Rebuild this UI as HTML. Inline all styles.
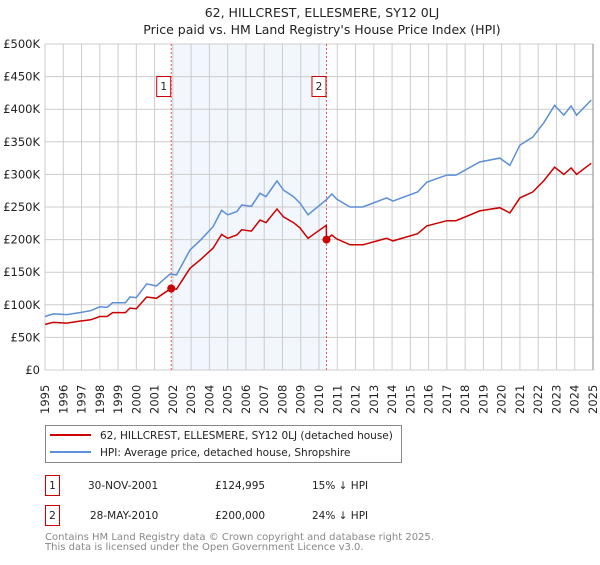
<!DOCTYPE html>
<html><head><meta charset="utf-8"><style>
body{margin:0;background:#fff;font-family:"Liberation Sans","DejaVu Sans",sans-serif;}
svg text{font-family:"DejaVu Sans","Liberation Sans",sans-serif;}
</style></head><body>
<svg id="c" width="600" height="560" xmlns="http://www.w3.org/2000/svg">
<text x="322" y="17" text-anchor="middle" font-size="12.5" fill="#222">62, HILLCREST, ELLESMERE, SY12 0LJ</text>
<text x="322" y="34" text-anchor="middle" font-size="12.5" fill="#222">Price paid vs. HM Land Registry's House Price Index (HPI)</text>
<g id="plot"></g>
<g>
<rect x="45.5" y="425.5" width="356" height="37" fill="#fff" stroke="#888"/>
<line x1="50" y1="435" x2="91" y2="435" stroke="#cc0000" stroke-width="2"/>
<text x="100" y="439" font-size="10.5" fill="#222">62, HILLCREST, ELLESMERE, SY12 0LJ (detached house)</text>
<line x1="50" y1="452" x2="91" y2="452" stroke="#5b8fd6" stroke-width="2"/>
<text x="100" y="456" font-size="10.5" fill="#222">HPI: Average price, detached house, Shropshire</text>
</g>
<g font-size="10.5" fill="#222">
<rect x="45.5" y="475.5" width="14" height="20" fill="#fff" stroke="#cc0000"/>
<text x="52.5" y="489" text-anchor="middle" fill="#222">1</text>
<text x="88" y="489" fill="#222">30-NOV-2001</text>
<text x="215" y="489" fill="#222">£124,995</text>
<text x="312" y="489" fill="#222">15% ↓ HPI</text>
<rect x="45.5" y="505.5" width="14" height="20" fill="#fff" stroke="#cc0000"/>
<text x="52.5" y="519" text-anchor="middle" fill="#222">2</text>
<text x="90" y="519" fill="#222">28-MAY-2010</text>
<text x="215" y="519" fill="#222">£200,000</text>
<text x="312" y="519" fill="#222">24% ↓ HPI</text>
</g>
<text x="45" y="540" font-size="10" fill="#888">Contains HM Land Registry data © Crown copyright and database right 2025.</text>
<text x="45" y="550" font-size="10" fill="#888">This data is licensed under the Open Government Licence v3.0.</text>
</svg>
<script>
const hpiDates=[1995.0,1995.45,1996.2,1996.9,1997.5,1998.0,1998.4,1998.7,1999.4,1999.65,2000.0,2000.57,2001.1,2001.84,2002.2,2002.94,2003.5,2004.2,2004.67,2005.0,2005.5,2005.77,2006.3,2006.77,2007.1,2007.7,2008.05,2008.6,2008.96,2009.4,2010.4,2010.7,2010.97,2011.7,2012.4,2013.7,2014.05,2015.4,2015.9,2017.0,2017.5,2018.8,2019.9,2020.45,2021.0,2021.7,2022.3,2022.9,2023.4,2023.8,2024.1,2024.9];
const hpiValues=[82,86,85,88,91,97,96,103,103,112,111,132,129,147,146,184,199,220,245,238,243,253,251,271,266,290,276,266,256,238,261,270,262,250,250,264,259,273,288,299,299,319,325,314,345,357,379,406,391,405,391,414];
const priceDates=[1995.0,1995.45,1996.2,1996.9,1997.5,1998.0,1998.4,1998.7,1999.4,1999.65,2000.0,2000.57,2001.1,2001.84,2001.91,2002.2,2002.94,2003.5,2004.2,2004.67,2005.0,2005.5,2005.77,2006.3,2006.77,2007.1,2007.7,2008.05,2008.6,2008.96,2009.4,2010.4,2010.41,2010.7,2010.97,2011.7,2012.4,2013.7,2014.05,2015.4,2015.9,2017.0,2017.5,2018.8,2019.9,2020.45,2021.0,2021.7,2022.3,2022.9,2023.4,2023.8,2024.1,2024.9];
const priceValues=[70,73,72,75,77,82,82,88,88,95,94,112,110,124,125,124,156,169,187,208,202,207,215,213,230,226,247,235,226,218,202,222,200,207,201,192,192,202,198,209,221,229,229,244,249,241,264,273,290,311,300,310,300,317];
const saleDates=[2001.91,2010.41];
const saleValues=[125,200];
const saleLabels=["1","2"];
const yTicks=[0,50,100,150,200,250,300,350,400,450,500];
const yTickLabels=["£0","£50K","£100K","£150K","£200K","£250K","£300K","£350K","£400K","£450K","£500K"];
const years=[1995,1996,1997,1998,1999,2000,2001,2002,2003,2004,2005,2006,2007,2008,2009,2010,2011,2012,2013,2014,2015,2016,2017,2018,2019,2020,2021,2022,2023,2024,2025];

const X0=45,X1=593,Y0=370,Y1=44;
const xs=t=>X0+(t-1995)/30*(X1-X0);
const ys=v=>Y0-v/500*(Y0-Y1);
const NS="http://www.w3.org/2000/svg";
const g=document.getElementById('plot');
function mk(tag,attrs,parent){const e=document.createElementNS(NS,tag);for(const k in attrs)e.setAttribute(k,attrs[k]);(parent||g).appendChild(e);return e;}

let r=mk('rect',{x:xs(saleDates[0]),y:Y1,width:xs(saleDates[1])-xs(saleDates[0]),height:Y0-Y1,fill:'#f2f6fd'});


years.forEach((yr,i)=>{
  const x=xs(yr);
  let l=mk('line',{x1:x,x2:x,y1:Y1,y2:Y0,stroke:'#cccccc','stroke-width':1});
  
  
  let t=mk('text',{x:0,y:0,transform:`translate(${x+4},414) rotate(-90)`,'font-size':'11.5',fill:'#222'});
  t.textContent=yr;
  
  
});
yTicks.forEach((v,i)=>{
  const y=ys(v);
  let l=mk('line',{x1:X0,x2:X1,y1:y,y2:y,stroke:'#cccccc','stroke-width':1});
  
  
  let t=mk('text',{x:40,y:y+4,'text-anchor':'end','font-size':'11.5',fill:'#222'});
  t.textContent=yTickLabels[i];
  
  
});
let rb=mk('line',{x1:X1,x2:X1,y1:Y1,y2:Y0,stroke:'#888','stroke-width':1});


saleDates.forEach((d,i)=>{
  const x=xs(d);
  let l=mk('line',{x1:x,x2:x,y1:Y1,y2:Y0,stroke:'#ee5555','stroke-width':1,'stroke-dasharray':'2,2'});
  
  
  let b=mk('rect',{x:x-14.5,y:76.5,width:14,height:20,fill:'#fff',stroke:'#cc0000'});
  
  
  let t=mk('text',{x:x-7.5,y:90,'text-anchor':'middle','font-size':'10.5',fill:'#222'});
  t.textContent=saleLabels[i];
  
  
});
function path(dates,vals){return dates.map((d,i)=>(i?'L':'M')+xs(d).toFixed(1)+','+ys(vals[i]).toFixed(1)).join('');}
let hp=mk('path',{d:path(hpiDates,hpiValues),fill:'none',stroke:'#5b8fd6','stroke-width':1.5});


let pp=mk('path',{d:path(priceDates,priceValues),fill:'none',stroke:'#cc0000','stroke-width':1.5});


saleDates.forEach((d,i)=>{
  let c=mk('circle',{cx:xs(d),cy:ys(saleValues[i]),r:4,fill:'#cc0000'});
  
  
});
</script>
</body></html>
